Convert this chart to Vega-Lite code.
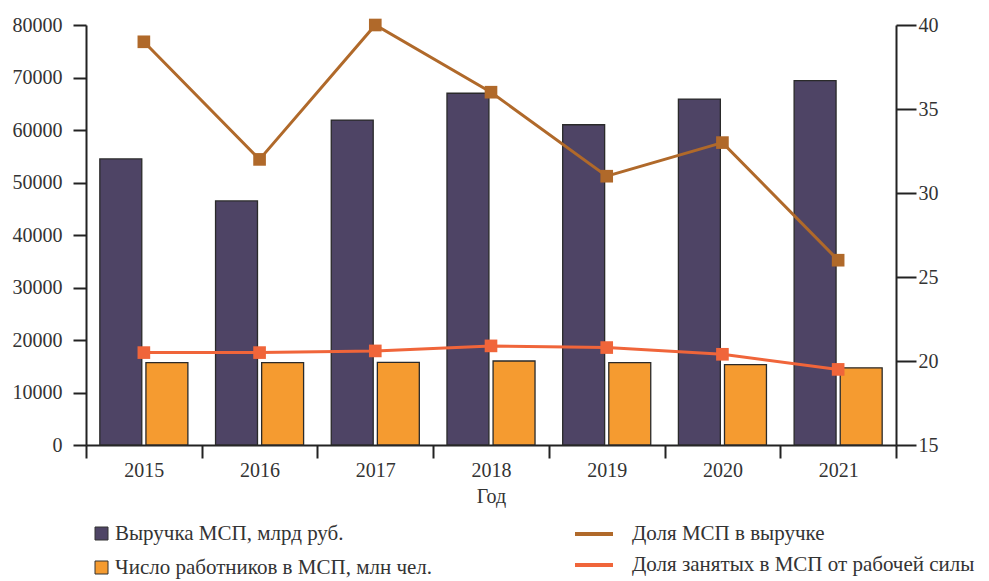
{
  "$schema": "https://vega.github.io/schema/vega-lite/v6.json",
  "width": 810,
  "height": 420,
  "autosize": {"type": "none"},
  "padding": {"left": 86, "top": 25, "right": 93, "bottom": 136},
  "background": "white",
  "config": {
    "font": "Liberation Serif",
    "view": {"stroke": null},
    "axis": {
      "grid": false,
      "domainColor": "#222222",
      "domainWidth": 2,
      "tickColor": "#222222",
      "tickWidth": 2,
      "tickSize": 13,
      "labelColor": "#333333",
      "labelFontSize": 20,
      "labelFont": "Liberation Serif",
      "titleFont": "Liberation Serif",
      "titleFontWeight": "normal",
      "titleColor": "#333333",
      "titleFontSize": 20
    },
    "legend": {
      "labelFont": "Liberation Serif",
      "labelFontSize": 21,
      "labelColor": "#333333",
      "labelLimit": 0,
      "padding": 0,
      "rowPadding": 12
    }
  },
  "datasets": {
    "bars": [
      {"year": "2015", "series": "Выручка МСП, млрд руб.", "value": 54500},
      {"year": "2016", "series": "Выручка МСП, млрд руб.", "value": 46500},
      {"year": "2017", "series": "Выручка МСП, млрд руб.", "value": 61900},
      {"year": "2018", "series": "Выручка МСП, млрд руб.", "value": 67000},
      {"year": "2019", "series": "Выручка МСП, млрд руб.", "value": 61000},
      {"year": "2020", "series": "Выручка МСП, млрд руб.", "value": 65900},
      {"year": "2021", "series": "Выручка МСП, млрд руб.", "value": 69400},
      {"year": "2015", "series": "Число работников в МСП, млн чел.", "value": 15700},
      {"year": "2016", "series": "Число работников в МСП, млн чел.", "value": 15700},
      {"year": "2017", "series": "Число работников в МСП, млн чел.", "value": 15750},
      {"year": "2018", "series": "Число работников в МСП, млн чел.", "value": 16000},
      {"year": "2019", "series": "Число работников в МСП, млн чел.", "value": 15700},
      {"year": "2020", "series": "Число работников в МСП, млн чел.", "value": 15300},
      {"year": "2021", "series": "Число работников в МСП, млн чел.", "value": 14700}
    ],
    "lines": [
      {"year": "2015", "series": "Доля МСП в выручке", "value": 39},
      {"year": "2016", "series": "Доля МСП в выручке", "value": 32},
      {"year": "2017", "series": "Доля МСП в выручке", "value": 40},
      {"year": "2018", "series": "Доля МСП в выручке", "value": 36},
      {"year": "2019", "series": "Доля МСП в выручке", "value": 31},
      {"year": "2020", "series": "Доля МСП в выручке", "value": 33},
      {"year": "2021", "series": "Доля МСП в выручке", "value": 26},
      {"year": "2015", "series": "Доля занятых в МСП от рабочей силы", "value": 20.5},
      {"year": "2016", "series": "Доля занятых в МСП от рабочей силы", "value": 20.5},
      {"year": "2017", "series": "Доля занятых в МСП от рабочей силы", "value": 20.6},
      {"year": "2018", "series": "Доля занятых в МСП от рабочей силы", "value": 20.9},
      {"year": "2019", "series": "Доля занятых в МСП от рабочей силы", "value": 20.8},
      {"year": "2020", "series": "Доля занятых в МСП от рабочей силы", "value": 20.4},
      {"year": "2021", "series": "Доля занятых в МСП от рабочей силы", "value": 19.5}
    ]
  },
  "layer": [
    {
      "data": {"name": "bars"},
      "mark": {"type": "bar", "stroke": "#2a2a2a", "strokeWidth": 1.3},
      "encoding": {
        "x": {
          "field": "year", "type": "nominal",
          "scale": {"paddingInner": 0, "paddingOuter": 0},
          "axis": {"title": "Год", "labelAngle": 0, "tickBand": "extent", "labelPadding": 2, "titlePadding": 6}
        },
        "xOffset": {
          "field": "series", "type": "nominal",
          "scale": {"paddingInner": 0.09, "paddingOuter": 0.3, "domain": ["Выручка МСП, млрд руб.", "Число работников в МСП, млн чел."]}
        },
        "y": {
          "field": "value", "type": "quantitative",
          "scale": {"domain": [0, 80000], "nice": false},
          "axis": {"title": null, "format": "d", "values": [0, 10000, 20000, 30000, 40000, 50000, 60000, 70000, 80000], "labelPadding": 11}
        },
        "fill": {
          "field": "series", "type": "nominal",
          "scale": {"domain": ["Выручка МСП, млрд руб.", "Число работников в МСП, млн чел."], "range": ["#4e4465", "#f59b30"]},
          "legend": {"title": null, "orient": "none", "legendX": 5, "legendY": 498, "labelFont": "Liberation Serif", "symbolType": "square", "symbolSize": 169, "symbolStrokeColor": "#333333", "symbolStrokeWidth": 1, "labelOffset": 3}
        }
      }
    },
    {
      "data": {"name": "lines"},
      "encoding": {
        "x": {"field": "year", "type": "nominal"},
        "y": {
          "field": "value", "type": "quantitative",
          "scale": {"domain": [15, 40], "nice": false},
          "axis": {"title": null, "orient": "right", "values": [15, 20, 25, 30, 35, 40], "tickSize": 20, "labelPadding": 2}
        },
        "color": {
          "field": "series", "type": "nominal",
          "scale": {"domain": ["Доля МСП в выручке", "Доля занятых в МСП от рабочей силы"], "range": ["#b0692a", "#f0653a"]},
          "legend": {"title": null, "orient": "none", "legendX": 487, "legendY": 488, "labelFont": "Liberation Serif", "rowPadding": -6, "symbolType": "stroke", "symbolSize": 1444, "symbolStrokeWidth": 4, "labelOffset": 17}
        }
      },
      "layer": [
        {"mark": {"type": "line", "strokeWidth": 3}},
        {"mark": {"type": "square", "size": 160, "filled": true, "opacity": 1}}
      ]
    }
  ],
  "resolve": {"scale": {"y": "independent"}}
}
